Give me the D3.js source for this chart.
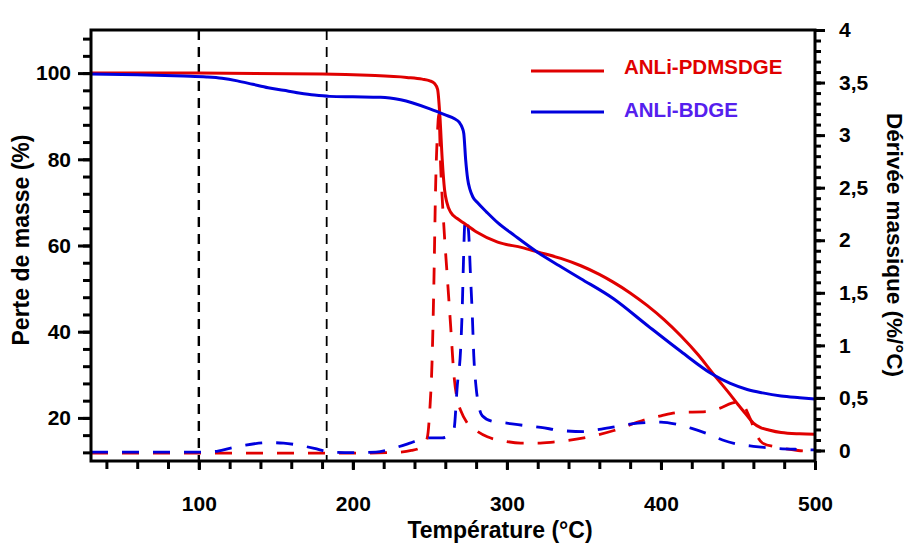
<!DOCTYPE html>
<html>
<head>
<meta charset="utf-8">
<script src="https://cdn.jsdelivr.net/npm/d3@7"></script>
<style>
  html, body { margin: 0; padding: 0; background: #fff; }
  svg { display: block; }
  text { font-family: "Liberation Sans", Arial, Helvetica, sans-serif; }
</style>
</head>
<body>
<svg id="chart" width="910" height="543"></svg>
<script>
// ---------- DATA ----------
const seriesNames = ["ANLi-PDMSDGE", "ANLi-BDGE"];
const seriesColors = ["#e00000", "#0000dd"];
const legendTextColors = ["#e00000", "#5520ee"];

// TGA: [temperature °C, mass %]
const tgaRed = [[30,100],[100,100],[180,99.8],[210,99.5],[235,99.0],[245,98.6],[250,98.2],[253,97.6],[255,96.2],[256.5,90],[258,80],[259.5,73],[261,70],[263.5,67.7],[268,66.2],[272,65.2],[280,63.2],[294,60.8],[310,59.5],[320,58.5],[335,57.0],[348,55.3],[360,53.3],[369,51.5],[380,49],[391,46.1],[402,42.8],[413,39.0],[424,34.7],[434,30.2],[440,27.6],[445,25.4],[450,23.1],[456,20.5],[460,18.8],[465,17.7],[470,17.2],[478,16.6],[490,16.3],[500,16.2]];
const tgaBlue = [[30,99.8],[60,99.6],[90,99.3],[105,99.1],[115,98.8],[125,98.2],[135,97.4],[145,96.6],[155,96.0],[165,95.4],[175,94.9],[185,94.6],[200,94.5],[218,94.4],[231,93.8],[250,91.7],[260,90.3],[266,89.4],[269,88.6],[271,87.3],[272,86],[273.2,80],[274.5,75.5],[276,73],[278,71.2],[281,69.9],[287,67.7],[294,65.3],[305,62.3],[320,58.4],[334,55.3],[348,52.3],[369,47.7],[391,41.5],[413,35.4],[434,30.0],[445,28],[456,26.6],[466,25.8],[478,25.1],[490,24.7],[500,24.4]];

// DTG: [temperature °C, derivative %/°C]
const dtgRed = [[30,-0.025],[100,-0.025],[200,-0.025],[225,-0.02],[238,0],[243,0.02],[246,0.05],[248.3,0.12],[250,0.4],[251.5,0.89],[252.6,1.6],[253.7,2.5],[255,3.05],[255.8,3.2],[257,2.7],[259,2.15],[261.3,1.65],[263.4,1.2],[265.6,0.72],[268,0.47],[270,0.38],[274.3,0.26],[280,0.19],[287.3,0.13],[298,0.09],[309,0.07],[320,0.07],[330,0.08],[350,0.12],[369.5,0.19],[389,0.29],[400,0.33],[410.7,0.36],[430,0.37],[438,0.40],[446,0.45],[450,0.46],[454,0.42],[458,0.3],[462,0.15],[466,0.07],[476,0.03],[489,0.0],[500,-0.01]];
const dtgBlue = [[30,-0.015],[100,-0.015],[110,-0.01],[120,0.02],[130,0.05],[145,0.075],[155,0.07],[165,0.05],[175,0.02],[185,-0.015],[200,-0.02],[215,-0.015],[226,0.02],[237,0.07],[245,0.11],[250,0.12],[258,0.12],[262,0.14],[265.6,0.2],[267.8,0.62],[269.9,0.95],[271,1.35],[271.8,1.8],[272.6,2.15],[273.3,2.21],[275,2.1],[276.4,1.65],[277.5,1.3],[278.5,0.9],[280,0.6],[281.8,0.42],[284,0.33],[290,0.28],[300,0.26],[310,0.24],[322,0.22],[335,0.19],[350,0.18],[360,0.2],[372,0.23],[385,0.26],[400,0.27],[410,0.25],[420,0.21],[430,0.16],[440,0.1],[450,0.06],[460,0.04],[475,0.02],[490,0.01],[500,0.005]];

const guideTemps = [100, 183];

const xTickValues = [100, 200, 300, 400, 500];
const xMinorTicks = d3.range(40, 501, 20);
const yLeftTicks = [20, 40, 60, 80, 100];
const yLeftMinor = d3.range(12, 109, 4);
const yRightTicks = [0, 0.5, 1, 1.5, 2, 2.5, 3, 3.5, 4];
const yRightTickLabels = ["0", "0,5", "1", "1,5", "2", "2,5", "3", "3,5", "4"];
const yRightMinor = d3.range(0, 41, 1).map(d => d / 10);

const xTitle = "Température (°C)";
const yLeftTitle = "Perte de masse (%)";
const yRightTitle = "Dérivée massique (%/°C)";

// ---------- LAYOUT ----------
const L = 91, R = 815, T = 30, B = 461;
const svg = d3.select("#chart");

const x = d3.scaleLinear().domain([30, 500]).range([L, R]);
const yL = d3.scaleLinear().domain([10, 110]).range([B, T]);
const yR = d3.scaleLinear().domain([-0.1, 4]).range([B, T]);

const defs = svg.append("defs");
defs.append("clipPath").attr("id", "plotclip")
  .append("rect").attr("x", L).attr("y", T).attr("width", R - L).attr("height", B - T);

const plot = svg.append("g").attr("clip-path", "url(#plotclip)");

// guide lines
const guideWidths = [2.4, 1.8];
guideTemps.forEach((t, i) => {
  plot.append("line")
    .attr("x1", x(t)).attr("x2", x(t)).attr("y1", T).attr("y2", B)
    .attr("stroke", "#000").attr("stroke-width", guideWidths[i])
    .attr("stroke-dasharray", "10,7");
});

const lineL = d3.line().x(d => x(d[0])).y(d => yL(d[1])).curve(d3.curveMonotoneX);
const lineR = d3.line().x(d => x(d[0])).y(d => yR(d[1])).curve(d3.curveMonotoneX);

// DTG dashed
[[dtgRed, 0], [dtgBlue, 1]].forEach(([data, i]) => {
  plot.append("path").datum(data)
    .attr("d", lineR)
    .attr("fill", "none")
    .attr("stroke", seriesColors[i])
    .attr("stroke-width", 2.8)
    .attr("stroke-dasharray", "17,14");
});

// TGA solid
[[tgaRed, 0], [tgaBlue, 1]].forEach(([data, i]) => {
  plot.append("path").datum(data)
    .attr("d", lineL)
    .attr("fill", "none")
    .attr("stroke", seriesColors[i])
    .attr("stroke-width", 3)
    .attr("stroke-linejoin", "round");
});

// ---------- AXES ----------
const axisColor = "#000";
const tickFont = "bold 21px 'Liberation Sans', Arial, sans-serif";

// bottom axis
const xAxisMinor = d3.axisBottom(x).tickValues(xMinorTicks).tickSize(8).tickFormat("");
const xAxisMajor = d3.axisBottom(x).tickValues(xTickValues).tickSize(9).tickPadding(26).tickFormat(d3.format("d"));
const gxm = svg.append("g").attr("transform", `translate(0,${B})`).call(xAxisMinor);
const gx = svg.append("g").attr("transform", `translate(0,${B})`).call(xAxisMajor);

// left axis
const yLMinor = d3.axisLeft(yL).tickValues(yLeftMinor).tickSize(8).tickFormat("");
const yLMajor = d3.axisLeft(yL).tickValues(yLeftTicks).tickSize(13).tickPadding(7).tickFormat(d3.format("d"));
const gylm = svg.append("g").attr("transform", `translate(${L},0)`).call(yLMinor);
const gyl = svg.append("g").attr("transform", `translate(${L},0)`).call(yLMajor);

// right axis
const yRMinor = d3.axisRight(yR).tickValues(yRightMinor).tickSize(6).tickFormat("");
const yRMajor = d3.axisRight(yR).tickValues(yRightTicks).tickSize(10).tickPadding(14)
  .tickFormat((d, i) => yRightTickLabels[i]);
const gyrm = svg.append("g").attr("transform", `translate(${R},0)`).call(yRMinor);
const gyr = svg.append("g").attr("transform", `translate(${R},0)`).call(yRMajor);

[gxm, gx, gylm, gyl, gyrm, gyr].forEach(g => {
  g.select(".domain").remove();
  g.selectAll(".tick line").attr("stroke", axisColor).attr("stroke-width", 3);
  g.selectAll(".tick text").style("font", tickFont).attr("fill", "#000");
});

// frame
svg.append("rect")
  .attr("x", L).attr("y", T).attr("width", R - L).attr("height", B - T)
  .attr("fill", "none").attr("stroke", "#000").attr("stroke-width", 3);

// titles
svg.append("text")
  .attr("x", 500).attr("y", 538)
  .attr("text-anchor", "middle")
  .style("font", "bold 23px 'Liberation Sans', Arial, sans-serif")
  .text(xTitle);

svg.append("text")
  .attr("transform", `translate(29,${240}) rotate(-90)`)
  .attr("text-anchor", "middle")
  .style("font", "bold 23px 'Liberation Sans', Arial, sans-serif")
  .text(yLeftTitle);

svg.append("text")
  .attr("transform", `translate(887,${245}) rotate(90)`)
  .attr("text-anchor", "middle")
  .style("font", "bold 22.5px 'Liberation Sans', Arial, sans-serif")
  .text(yRightTitle);

// legend
const legendY = [71, 112];
const legendTextY = [74, 117];
seriesNames.forEach((name, i) => {
  svg.append("line")
    .attr("x1", 531).attr("x2", 604).attr("y1", legendY[i]).attr("y2", legendY[i])
    .attr("stroke", seriesColors[i]).attr("stroke-width", 3);
  svg.append("text")
    .attr("x", 624).attr("y", legendTextY[i])
    .attr("fill", legendTextColors[i])
    .style("font", "bold 20.5px 'Liberation Sans', Arial, sans-serif")
    .text(name);
});
</script>
</body>
</html>
